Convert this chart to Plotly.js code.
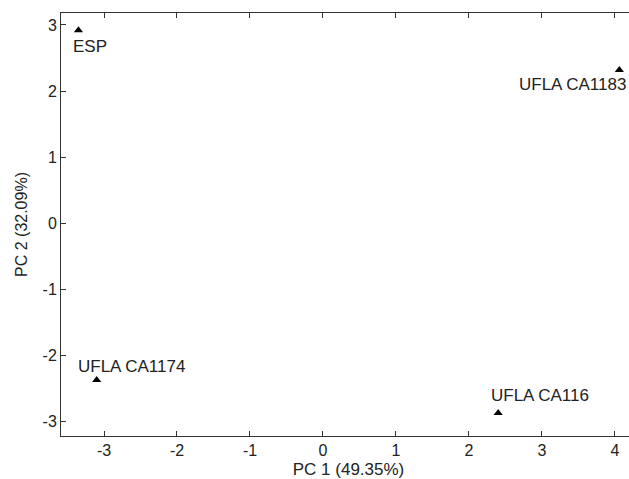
<!DOCTYPE html>
<html>
<head>
<meta charset="utf-8">
<script src="https://cdn.plot.ly/plotly-3.0.1.min.js"></script>
<style>html,body{margin:0;padding:0;overflow:hidden;background:#fff;}#chart{width:640px;height:479px;}</style>
</head>
<body>
<div id="chart"></div>
<script>
const labels = ["ESP", "UFLA CA1183", "UFLA CA1174", "UFLA CA116"];
const pc1 = [-3.35, 4.06, -3.10, 2.40];
const pc2 = [2.92, 2.32, -2.37, -2.87];
const xTicks = [-3, -2, -1, 0, 1, 2, 3, 4];
const yTicks = [-3, -2, -1, 0, 1, 2, 3];

const FONT = "Liberation Sans, Arial, sans-serif";

// label placement relative to each marker (style only)
const labelStyle = [
  {xanchor: "left", xshift: -7, yshift: -16},
  {xanchor: "right", xshift: 9, yshift: -15},
  {xanchor: "left", xshift: -21, yshift: 14},
  {xanchor: "left", xshift: -9, yshift: 18}
];

const trace = {
  x: pc1, y: pc2, mode: "markers", type: "scatter",
  marker: {symbol: "triangle-up", size: 8, color: "#000"},
  hoverinfo: "text", text: labels
};

const annotations = labels.map((t, i) => ({
  x: pc1[i], y: pc2[i], xref: "x", yref: "y", text: t, showarrow: false,
  xanchor: labelStyle[i].xanchor, yanchor: "middle",
  xshift: labelStyle[i].xshift, yshift: labelStyle[i].yshift,
  font: {family: FONT, size: 17, color: "#222"}
}));

const axisCommon = {
  showgrid: false, zeroline: false, showline: true, mirror: "ticks",
  linecolor: "#333", linewidth: 1, ticks: "inside", ticklen: 5, tickcolor: "#333",
  tickfont: {family: FONT, size: 16, color: "#222"},
  tickmode: "array"
};

const layout = {
  width: 640, height: 479,
  margin: {l: 61, r: 4, t: 13, b: 43},
  paper_bgcolor: "#fff", plot_bgcolor: "#fff",
  showlegend: false,
  xaxis: Object.assign({}, axisCommon, {
    range: [-3.589, 4.288], tickvals: xTicks, ticktext: xTicks.map(String),
    title: {text: "PC 1 (49.35%)", standoff: 9, font: {family: FONT, size: 17, color: "#222"}}
  }),
  yaxis: Object.assign({}, axisCommon, {
    range: [-3.216, 3.18], tickvals: yTicks, ticktext: yTicks.map(String),
    title: {text: "PC 2 (32.09%)", standoff: 10, font: {family: FONT, size: 16, color: "#222"}}
  }),
  annotations: annotations
};

Plotly.newPlot("chart", [trace], layout, {displayModeBar: false, staticPlot: true});
</script>
</body>
</html>
